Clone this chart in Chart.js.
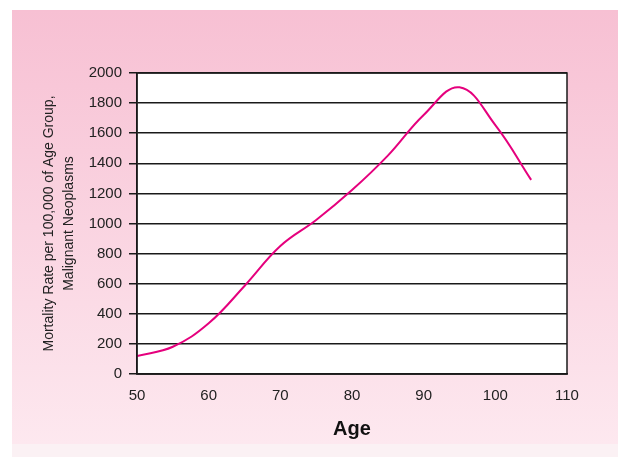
<!DOCTYPE html>
<html>
<head>
<meta charset="utf-8">
<script src="https://cdn.jsdelivr.net/npm/chart.js@4.4.1/dist/chart.umd.min.js"></script>
<style>
  html, body { margin: 0; padding: 0; background: #ffffff; }
  #wrap { width: 618px; height: 457px; position: relative; }
</style>
</head>
<body>
<div id="wrap"><canvas id="c" width="618" height="457"></canvas></div>
<script>
// Mortality from malignant neoplasms by age
const ages = [50, 55, 60, 65, 70, 75, 80, 85, 90, 95, 100, 105];
const mortalityRates = [120, 181, 337, 585, 850, 1023, 1222, 1451, 1721, 1905, 1654, 1290];
const xTicks = [50, 60, 70, 80, 90, 100, 110];
const yTicks = [0, 200, 400, 600, 800, 1000, 1200, 1400, 1600, 1800, 2000];

const FAMILY = "'Liberation Sans', Arial, sans-serif";

// Pink gradient panel behind the plot, white plot area with border
const panelPlugin = {
  id: 'panel',
  beforeDraw(chart) {
    const ctx = chart.ctx;
    const W = chart.width, H = chart.height;
    ctx.save();
    ctx.fillStyle = '#ffffff';
    ctx.fillRect(0, 0, W, H);
    const g = ctx.createLinearGradient(0, 10, 0, 444);
    g.addColorStop(0, '#f7c0d3');
    g.addColorStop(1, '#fde8ef');
    ctx.fillStyle = g;
    ctx.fillRect(12, 10, W - 12, 434);
    ctx.fillStyle = '#fbf1f4';
    ctx.fillRect(12, 444, W - 12, H - 444);
    const a = chart.chartArea;
    ctx.fillStyle = '#ffffff';
    ctx.fillRect(a.left, a.top, a.right - a.left, a.bottom - a.top);
    ctx.restore();
  },
  afterDatasetsDraw(chart) {
    const ctx = chart.ctx;
    const a = chart.chartArea;
    ctx.save();
    ctx.strokeStyle = '#1a1a1a';
    ctx.lineWidth = 1.5;
    ctx.strokeRect(a.left, a.top, a.right - a.left, a.bottom - a.top);
    ctx.restore();
  }
};

new Chart(document.getElementById('c'), {
  type: 'line',
  data: {
    datasets: [{
      data: ages.map((a, i) => ({ x: a, y: mortalityRates[i] })),
      borderColor: '#e5007d',
      borderWidth: 2,
      pointRadius: 0,
      tension: 0.4,
      fill: false
    }]
  },
  options: {
    responsive: false,
    animation: false,
    devicePixelRatio: 1,
    layout: { padding: { left: 0, right: 51, top: 73, bottom: 0 } },
    plugins: { legend: { display: false }, tooltip: { enabled: false } },
    scales: {
      x: {
        type: 'linear',
        min: 50, max: 110,
        afterBuildTicks(scale) { scale.ticks = xTicks.map(v => ({ value: v })); },
        afterFit(scale) { scale.height = 83; },
        grid: { display: false, drawTicks: false },
        border: { display: true, color: '#1a1a1a', width: 1.5 },
        ticks: {
          color: '#222222',
          padding: 13,
          maxRotation: 0,
          callback: v => String(v),
          font: { family: FAMILY, size: 15 }
        },
        title: {
          display: true,
          text: 'Age',
          color: '#111111',
          font: { family: FAMILY, size: 20, weight: 'bold' },
          padding: { top: 0, bottom: 16 }
        }
      },
      y: {
        type: 'linear',
        min: 0, max: 2000,
        afterBuildTicks(scale) { scale.ticks = yTicks.map(v => ({ value: v })); },
        afterFit(scale) { scale.width = 137; },
        grid: { color: '#1a1a1a', lineWidth: 1.5, drawTicks: true, tickLength: 8, tickColor: '#1a1a1a' },
        border: { display: true, color: '#1a1a1a', width: 1.5 },
        ticks: {
          color: '#222222',
          padding: 7,
          callback: v => String(v),
          font: { family: FAMILY, size: 15 }
        },
        title: {
          display: true,
          text: ['Mortality Rate per 100,000 of Age Group,', 'Malignant Neoplasms'],
          color: '#222222',
          font: { family: FAMILY, size: 14, lineHeight: 1.45 },
          padding: { top: 39, bottom: 0 }
        }
      }
    }
  },
  plugins: [panelPlugin]
});
</script>
</body>
</html>
